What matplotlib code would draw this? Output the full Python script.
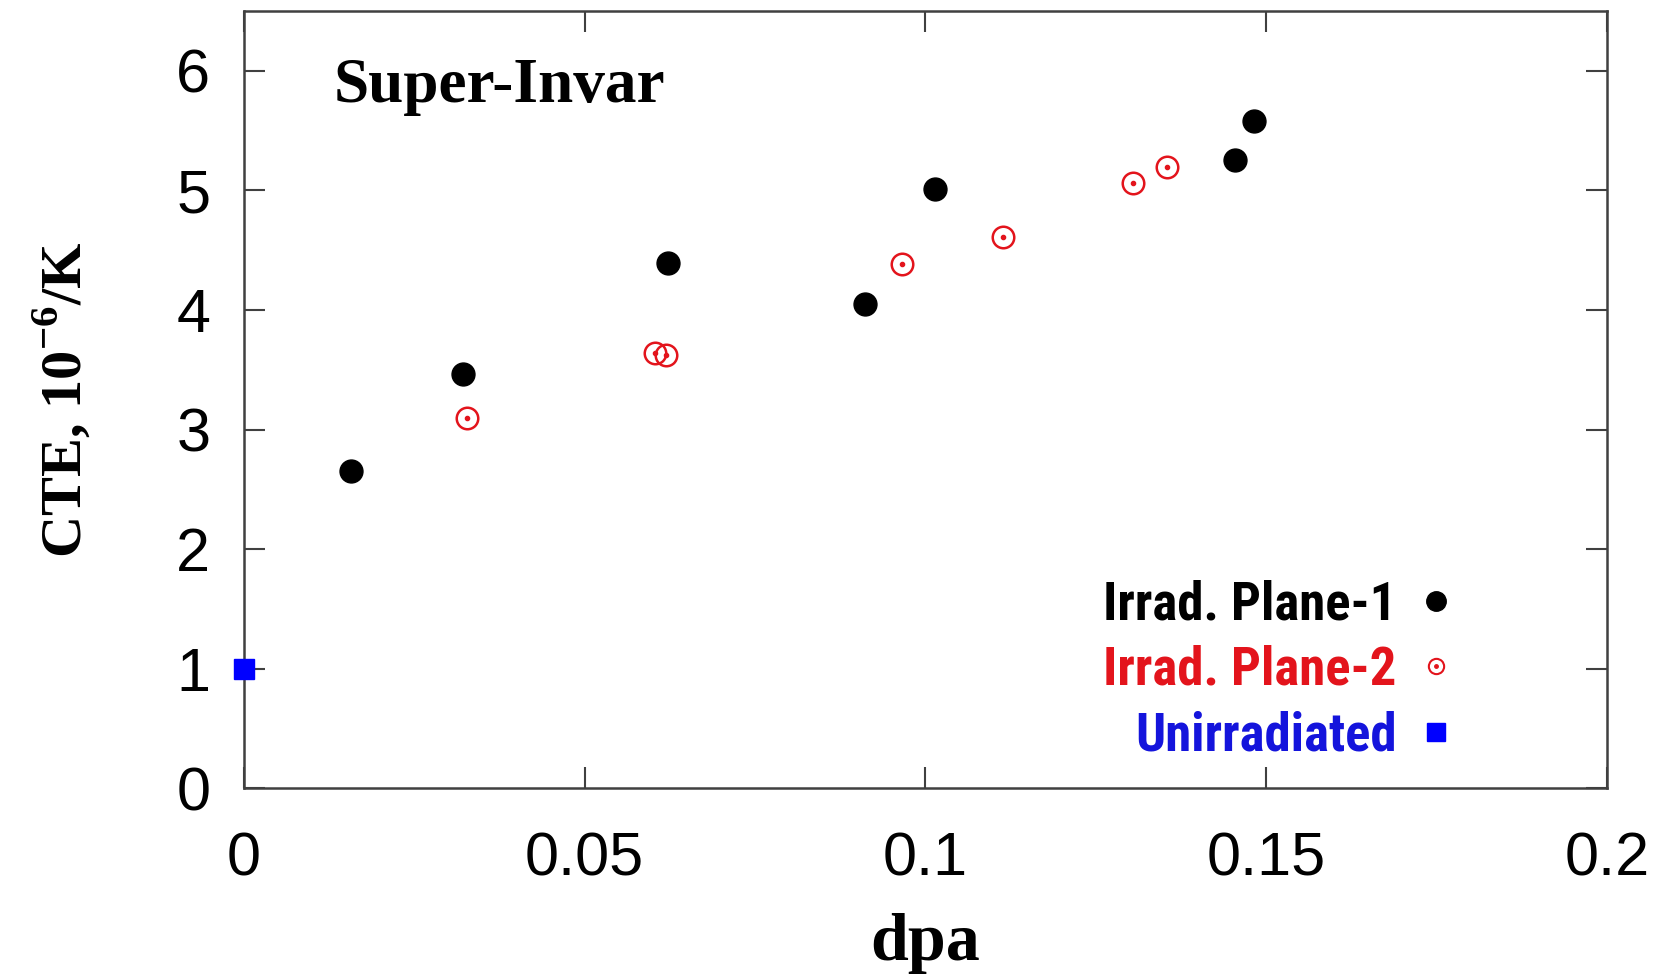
import matplotlib
matplotlib.use('Agg')
import matplotlib.pyplot as plt
from matplotlib.lines import Line2D
from matplotlib.legend_handler import HandlerTuple

# values
plane1_dpa = [0.0158, 0.0322, 0.0623, 0.0912, 0.1014, 0.1454, 0.1482]
plane1_cte = [2.65, 3.46, 4.39, 4.05, 5.01, 5.25, 5.58]
plane2_dpa = [0.0327, 0.0604, 0.0620, 0.0966, 0.1113, 0.1305, 0.1355]
plane2_cte = [3.10, 3.64, 3.62, 4.38, 4.61, 5.06, 5.19]
unirr_dpa = [0.0]
unirr_cte = [1.0]

x_ticks = [0, 0.05, 0.1, 0.15, 0.2]
x_ticklabels = ['0', '0.05', '0.1', '0.15', '0.2']
y_ticks = [0, 1, 2, 3, 4, 5, 6]

RED = '#e3141c'
BLUE = '#1414dc'

plt.rcParams['mathtext.fontset'] = 'custom'
plt.rcParams['mathtext.rm'] = 'Liberation Serif:bold'
plt.rcParams['mathtext.bf'] = 'Liberation Serif:bold'

fig = plt.figure(figsize=(16.69, 9.77), dpi=100)
ax = fig.add_axes([0.146, 0.193, 0.817, 0.796])

ax.plot(plane1_dpa, plane1_cte, 'o', color='black', markersize=16.5, linestyle='none', clip_on=False)
ax.plot(plane2_dpa, plane2_cte, 'o', markerfacecolor='none', markeredgecolor=RED,
        markeredgewidth=1.8, markersize=15.5, linestyle='none', clip_on=False)
ax.plot(plane2_dpa, plane2_cte, 'o', color=RED, markersize=3, linestyle='none', clip_on=False)
ax.plot(unirr_dpa, unirr_cte, 's', color='#0000ff', markersize=15, linestyle='none',
        clip_on=False, zorder=5)

ax.set_xlim(0, 0.2)
ax.set_ylim(0, 6.5)
ax.set_xticks(x_ticks)
ax.set_xticklabels(x_ticklabels)
ax.set_yticks(y_ticks)

for s in ax.spines.values():
    s.set_color('#404040')
    s.set_linewidth(1.8)
ax.tick_params(direction='in', length=15, width=1.5, color='#404040',
               top=True, right=True, labelsize=44)
ax.tick_params(axis='x', pad=31)
ax.tick_params(axis='y', pad=24)
for lab in ax.get_xticklabels() + ax.get_yticklabels():
    lab.set_fontfamily('Liberation Sans')

ax.set_xlabel('dpa', fontfamily='Liberation Serif', fontweight='bold', fontsize=49, labelpad=18)
ax.set_ylabel(r'CTE, 10$^{-6}$/K', fontfamily='Liberation Serif', fontweight='bold',
              fontsize=42, labelpad=60)

ax.text(0.066, 0.902, 'Super-Invar', transform=ax.transAxes, fontfamily='Liberation Serif',
        fontweight='bold', fontsize=45.5, va='center', ha='left')

# legend keys
h1 = Line2D([], [], marker='o', color='black', markersize=14, linestyle='none')
h2a = Line2D([], [], marker='o', markerfacecolor='none', markeredgecolor=RED,
             markeredgewidth=1.5, markersize=11, linestyle='none')
h2b = Line2D([], [], marker='o', color=RED, markersize=2.5, linestyle='none')
h3 = Line2D([], [], marker='s', color='#0000ff', markersize=13, linestyle='none')

leg = ax.legend([h1, (h2a, h2b), h3], ['Irrad. Plane-1', 'Irrad. Plane-2', 'Unirradiated'],
                handler_map={tuple: HandlerTuple(ndivide=1)},
                loc='lower right', bbox_to_anchor=(0.886, 0.035), frameon=False,
                markerfirst=False, handlelength=0.6, handletextpad=0.45,
                labelspacing=0.27, borderpad=0, borderaxespad=0,
                prop={'family': ['Roboto Condensed', 'Roboto'],
                      'weight': 'bold', 'size': 38})
for t, c in zip(leg.get_texts(), ['black', RED, BLUE]):
    t.set_color(c)

fig.savefig('out.png', dpi=100)
